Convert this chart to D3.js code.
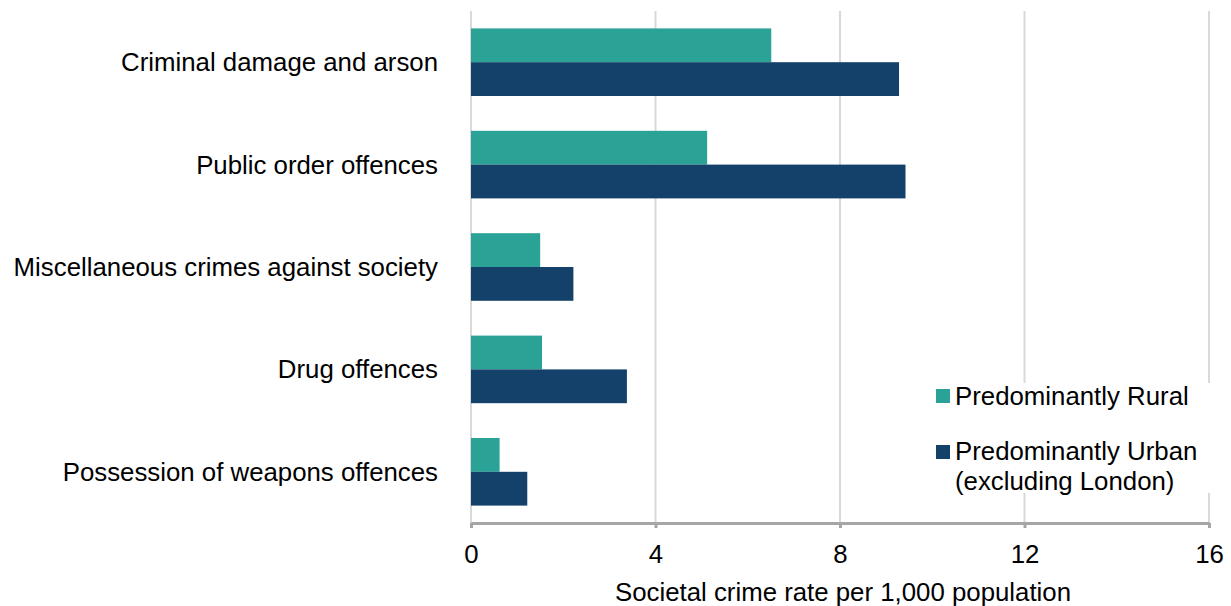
<!DOCTYPE html>
<html><head><meta charset="utf-8">
<script src="https://cdn.jsdelivr.net/npm/d3@7"></script>
<style>body{margin:0;background:#fff}svg{display:block}text{font-family:"Liberation Sans",Arial,sans-serif;fill:#000}</style>
</head><body><svg id="c" width="1231" height="606"></svg>
<script>
const categories = ["Criminal damage and arson","Public order offences","Miscellaneous crimes against society","Drug offences","Possession of weapons offences"];
const seriesNames = ["Predominantly Rural","Predominantly Urban (excluding London)"];
const rural = [6.51, 5.12, 1.50, 1.54, 0.62];
const urban = [9.28, 9.42, 2.22, 3.38, 1.22];
const xTicks = [0, 4, 8, 12, 16];
const xTitle = "Societal crime rate per 1,000 population";
const colors = ["#2aa296", "#134169"];
const fs = 25.8;

const svg = d3.select("#c");
const m = {l:471, r:1209, t:11, b:523};
const x = d3.scaleLinear().domain([0,16]).range([m.l, m.r]);
const y = d3.scaleBand().domain(categories).range([m.t, m.b]).paddingInner(0.34).paddingOuter(0.17);
const ys = d3.scaleBand().domain([0,1]).range([0, y.bandwidth()]);

// gridlines
svg.append("g").selectAll("line").data(xTicks.slice(1)).join("line")
  .attr("x1", d=>x(d)).attr("x2", d=>x(d)).attr("y1", m.t).attr("y2", m.b)
  .attr("stroke", "#d9d9d9").attr("stroke-width", 2);
svg.append("line").attr("x1", x(0)).attr("x2", x(0)).attr("y1", m.t).attr("y2", m.b)
  .attr("stroke", "#d9d9d9").attr("stroke-width", 2);

// bars
const data = categories.map((c,i)=>({c, v:[rural[i], urban[i]]}));
const g = svg.append("g").selectAll("g").data(data).join("g")
  .attr("transform", d=>`translate(0,${y(d.c)})`);
g.selectAll("rect").data(d=>d.v.map((v,j)=>({v,j}))).join("rect")
  .attr("x", x(0)).attr("y", d=>ys(d.j)).attr("height", ys.bandwidth())
  .attr("width", d=>x(d.v)-x(0)).attr("fill", d=>colors[d.j]);

// x axis
const xa = svg.append("g").attr("transform", `translate(0,${m.b})`)
  .call(d3.axisBottom(x).tickValues(xTicks).tickSize(5).tickSizeOuter(0));
xa.select(".domain").attr("stroke", "#a6a6a6").attr("stroke-width", 3);
xa.selectAll(".tick line").attr("stroke", "#a6a6a6").attr("stroke-width", 3);
xa.selectAll(".tick text").attr("font-size", fs).attr("dy", 0).attr("y", 40)
  .style("font-family", '"Liberation Sans",Arial,sans-serif').attr("fill", "#000");

svg.append("text").attr("x", (m.l+m.r)/2 + 3).attr("y", 601).attr("text-anchor", "middle")
  .attr("font-size", fs).text(xTitle);

// category labels
svg.append("g").selectAll("text").data(categories).join("text")
  .attr("x", 438).attr("y", d=>y(d)+y.bandwidth()/2).attr("text-anchor", "end")
  .attr("dominant-baseline", "central").attr("font-size", fs).text(d=>d);

// legend
const lg = svg.append("g");
lg.append("rect").attr("x", 928).attr("y", 383).attr("width", 290).attr("height", 110).attr("fill", "#fff");
lg.append("rect").attr("x", 936).attr("y", 389).attr("width", 14).attr("height", 14).attr("fill", colors[0]);
lg.append("text").attr("x", 955).attr("y", 405).attr("font-size", fs).text(seriesNames[0]);
lg.append("rect").attr("x", 936).attr("y", 445).attr("width", 14).attr("height", 14).attr("fill", colors[1]);
const t2 = lg.append("text").attr("x", 955).attr("y", 460).attr("font-size", fs);
t2.append("tspan").attr("x", 955).text("Predominantly Urban");
t2.append("tspan").attr("x", 955).attr("dy", 30).text("(excluding London)");
</script></body></html>
